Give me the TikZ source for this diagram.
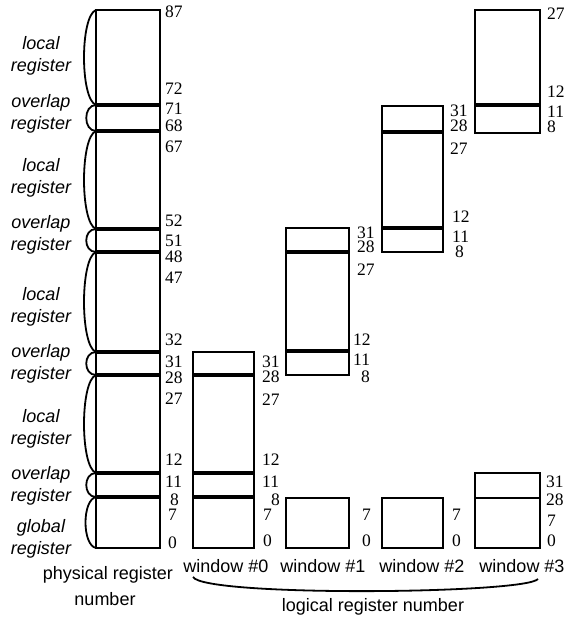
\documentclass[tikz,border=0pt]{standalone}
\usepackage{fontspec}
\setmainfont{Liberation Serif}
\setsansfont{Liberation Sans}
\begin{document}
\begin{tikzpicture}[x=1pt,y=-1pt,
  box/.style={draw,line width=2pt},
  sepline/.style={line width=3.6pt},
  num/.style={font=\fontsize{17.5}{18}\selectfont,anchor=base west,inner sep=0pt},
  lab/.style={font=\sffamily\itshape\fontsize{18}{22}\selectfont,anchor=base,inner sep=0pt},
  captext/.style={font=\sffamily\fontsize{18}{22}\selectfont,anchor=base,inner sep=0pt},
  bracel/.style={line width=1.8pt}]
\useasboundingbox (0,0) rectangle (567,617);
% physical register file
\draw[box] (96,10) rectangle (160,548);
\foreach \y in {105,131,229,252,352,375,473,497} \draw[sepline] (96,\y) -- (160,\y);
% window 0
\draw[box] (193,352) rectangle (254,548);
\foreach \y in {375,473,497} \draw[sepline] (193,\y) -- (254,\y);
% window 1
\draw[box] (286,228) rectangle (349,375);
\foreach \y in {252,351} \draw[sepline] (286,\y) -- (349,\y);
\draw[box] (286,498) rectangle (349,548);
% window 2
\draw[box] (382,106) rectangle (443,252);
\foreach \y in {132,228} \draw[sepline] (382,\y) -- (443,\y);
\draw[box] (382,498) rectangle (443,548);
% window 3
\draw[box] (475,10) rectangle (540,133);
\draw[sepline] (475,105) -- (540,105);
\draw[box] (475,473) rectangle (540,548);
\draw[line width=2pt] (475,498) -- (540,498);
% left braces
\foreach \a/\b in {10/105,131/229,252/352,375/473}
  \draw[bracel] (96,\a) .. controls (80,\a+6) and (80,\b-6) .. (96,\b);
\foreach \a/\b in {105/131,229/252,352/375,473/497}
  \draw[bracel] (96,\a) .. controls (83,\a) and (83,\b) .. (96,\b);
\draw[bracel] (96,497) .. controls (82,500) and (82,545) .. (96,548);
% bottom brace
\draw[bracel] (193,577) .. controls (205,597) and (525,594) .. (538,579);
% left labels
\foreach \w/\y [count=\i] in {local/50,overlap/108,local/172,overlap/229,local/300,overlap/357,local/422,overlap/479,global/532}{
  \node[lab] (lw\i) at (41,\y) {\w};
  \node[lab] (lr\i) at (41,\y+22) {register};
}
% numbers
\foreach \t/\x/\y [count=\i] in {
  87/165/18, 72/165/95, 71/165/115, 68/165/132, 67/165/153,
  52/165/226, 51/165/246, 48/165/262, 47/165/283,
  32/165/345, 31/165/367, 28/165/383, 27/165/404,
  12/165/465, 11/165/487, 8/170/505, 7/168/520, 0/168/548,
  31/262/367, 28/262/382, 27/262/405, 12/262/465, 11/262/487, 8/271/505, 7/263/520, 0/263/546,
  31/357/238, 28/357/252, 27/357/275, 12/353/345, 11/353/365, 8/361/382, 7/362/520, 0/362/546,
  31/450/117, 28/450/132, 27/450/155, 12/452/223, 11/452/243, 8/455/258, 7/452/520, 0/452/546,
  27/547/20, 12/547/98, 11/547/118, 8/547/133, 31/546/487, 28/546/505, 7/547/526, 0/547/546}
  \node[num] (n\i) at (\x,\y) {\t};
% bottom captions
\node[captext] (w0) at (226,572) {window \#0};
\node[captext] (w1) at (323,572) {window \#1};
\node[captext] (w2) at (422,572) {window \#2};
\node[captext] (w3) at (522,572) {window \#3};
\node[captext] (phys1) at (108,579) {physical register};
\node[captext] (phys2) at (105,605) {number};
\node[captext] (logic) at (373,611) {logical register number};
\end{tikzpicture}
\end{document}
